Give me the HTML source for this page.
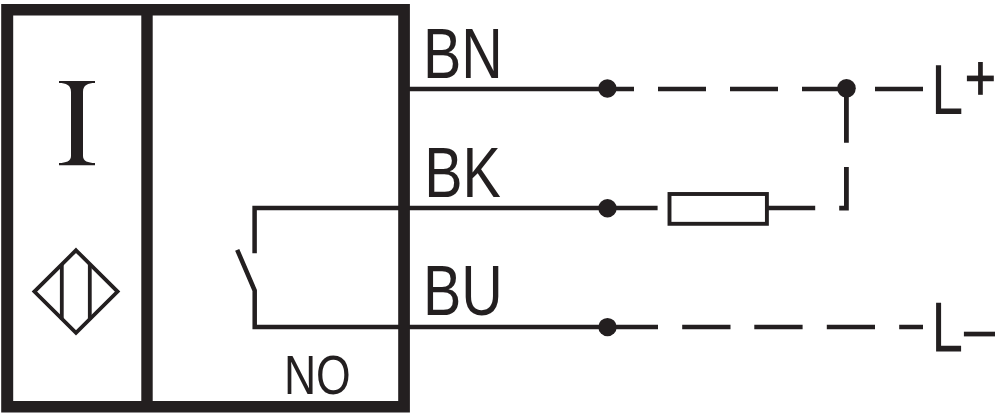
<!DOCTYPE html>
<html><head><meta charset="utf-8">
<style>
html,body{margin:0;padding:0;background:#fff;}
body{width:1000px;height:416px;overflow:hidden;}
svg{display:block;}
text{font-family:"Liberation Sans",sans-serif;fill:#231f20;}
</style></head>
<body>
<svg width="1000" height="416" viewBox="0 0 1000 416" xmlns="http://www.w3.org/2000/svg">
<g fill="none" stroke="#231f20" stroke-linecap="butt" stroke-linejoin="miter">
  <!-- outer box -->
  <!-- diamond -->
  <path d="M76,250.3 L117.6,291.6 L76,332.9 L34.4,291.6 Z" stroke-width="3.8"/>
  <line x1="61.8" y1="264" x2="61.8" y2="319.5" stroke-width="3.8"/>
  <line x1="89.8" y1="264" x2="89.8" y2="319.5" stroke-width="3.8"/>
  <!-- BN wire -->
  <path d="M409,89 H634 M658,89 H706 M730,89 H778 M802,89 H850 M875,89 H923" stroke-width="4.5"/>
  <!-- vertical dashed -->
  <path d="M846.4,89 V142.7 M839.2,208.1 H846.4 V167" stroke-width="4.8"/>
  <!-- BK wire -->
  <path d="M254.6,253.2 V208.1 H657.6" stroke-width="4.5"/>
  <rect x="669.5" y="194" width="97.4" height="29.8" stroke-width="3.9"/>
  <path d="M767,208.1 H815.2" stroke-width="4.5"/>
  <!-- switch blade + BU wire -->
  <path d="M237.2,249.8 L254.7,290.5 V327.1 H658 M682.2,327.1 H730.5 M754.3,327.1 H802.6 M826.8,327.1 H875 M899.2,327.1 H923" stroke-width="4.5"/>
</g>
<g fill="#231f20">
  <path fill-rule="evenodd" d="M1.2,4.1 H409.9 V412.6 H1.2 Z M13.2,15.5 V401.1 H141.3 V15.5 Z M152.7,15.5 V401.1 H398.2 V15.5 Z"/>
  <circle cx="607.4" cy="88.5" r="9.2"/>
  <circle cx="846.5" cy="88.3" r="9.3"/>
  <circle cx="607.5" cy="208.3" r="9.2"/>
  <circle cx="607.5" cy="327.1" r="9.2"/>
  <!-- I glyph -->
  <path d="M59,81 H95 V83 C88,83 83,85 83,92 V156 C83,161 88,163 95,163 V165.3 H59 V163 C66,163 71,161 71,156 V92 C71,85 66,83 59,83 Z"/>
  <!-- L+ -->
  <path d="M935.9,65.2 H941.1 V108.4 H961.3 V114 H935.9 Z"/>
  <rect x="966.9" y="75.6" width="26.9" height="5.65"/>
  <rect x="978.1" y="62" width="4.7" height="32.8"/>
  <!-- L- -->
  <path d="M936.1,302.8 H941.1 V345.8 H961.1 V351.6 H936.1 Z"/>
  <rect x="963.9" y="331.7" width="31.1" height="4.7"/>
</g>
<text transform="translate(422.9,77.7) scale(0.81,1)" font-size="70.9">BN</text>
<text transform="translate(424.2,196.7) scale(0.81,1)" font-size="70.9">BK</text>
<text transform="translate(422.9,314.5) scale(0.81,1)" font-size="70.9">BU</text>
<text transform="translate(283.9,393.7) scale(0.81,1)" font-size="55">NO</text>
</svg>
</body></html>
